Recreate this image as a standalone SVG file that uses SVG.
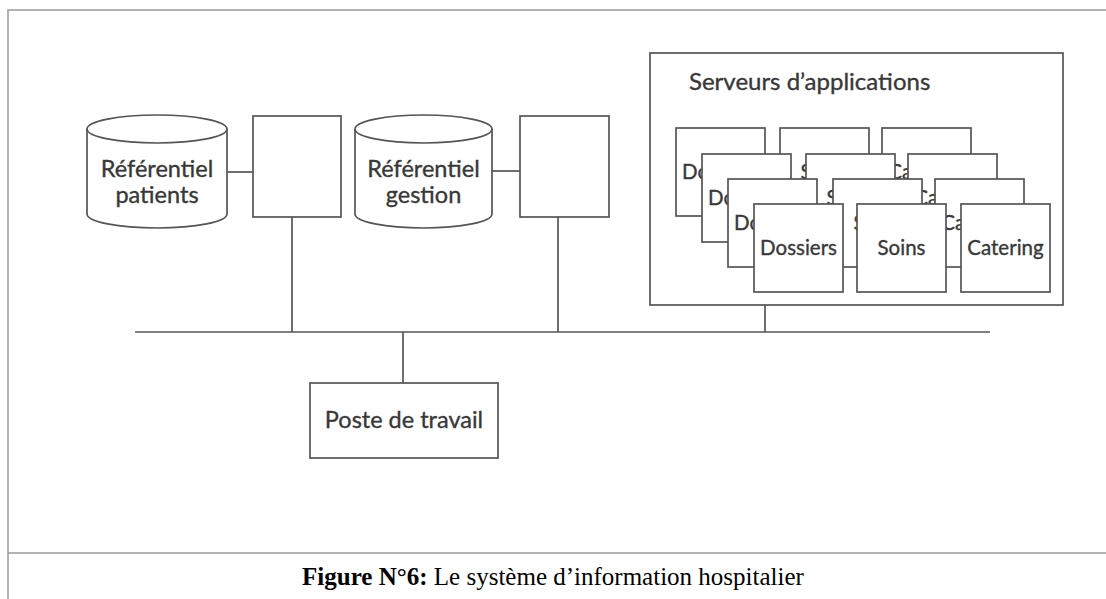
<svg xmlns="http://www.w3.org/2000/svg" width="1106" height="599" viewBox="0 0 1106 599">
  <style>
    .frame { fill: none; stroke: #9a9a9a; stroke-width: 1.5; }
    .shape { fill: #ffffff; stroke: #555555; stroke-width: 1.7; }
    .wire { fill: none; stroke: #555555; stroke-width: 1.7; }
    .lbl { font-family: Lato, "Liberation Sans", sans-serif; fill: #383838; stroke: #383838; stroke-width: 0.35; text-anchor: middle; }
    .big { font-size: 23.5px; }
    .app { font-size: 20.5px; }
    .cap { font-family: "Liberation Serif", serif; font-size: 25px; fill: #000000; text-anchor: middle; }
  </style>

  <rect width="1106" height="599" fill="#ffffff"/>

  <!-- page frame -->
  <g id="frame">
    <path class="frame" d="M8,599 V10 H1106"/>
    <path class="frame" d="M8,553 H1106"/>
  </g>

  <!-- connectors -->
  <g id="connectors">
    <path class="wire" d="M135,332 H990"/>
    <path class="wire" d="M227,172 H253"/>
    <path class="wire" d="M492,171 H520"/>
    <path class="wire" d="M292,217 V332"/>
    <path class="wire" d="M558,217 V332"/>
    <path class="wire" d="M765,305 V332"/>
    <path class="wire" d="M403,332 V383"/>
  </g>

  <g id="ref-patients">
    <path class="shape" d="M87,129 A70,14 0 0 1 227,129 V214 A70,14 0 0 1 87,214 Z"/>
    <path class="wire" d="M87,129 A70,14 0 0 0 227,129"/>
    <text class="lbl big" x="157" y="177">Référentiel</text>
    <text class="lbl big" x="157" y="203">patients</text>
  </g>

  <g id="box-1">
    <rect class="shape" x="253" y="116" width="88" height="101"/>
  </g>

  <g id="ref-gestion">
    <path class="shape" d="M355,129 A68.5,14 0 0 1 492,129 V214 A68.5,14 0 0 1 355,214 Z"/>
    <path class="wire" d="M355,129 A68.5,14 0 0 0 492,129"/>
    <text class="lbl big" x="423.5" y="177">Référentiel</text>
    <text class="lbl big" x="423.5" y="203">gestion</text>
  </g>

  <g id="box-2">
    <rect class="shape" x="520" y="116" width="89" height="101"/>
  </g>

  <g id="app-servers">
    <rect class="shape" x="650" y="53" width="413" height="252"/>
    <text class="lbl" x="689" y="90" style="text-anchor:start;font-size:24px">Serveurs d’applications</text>

    <!-- back row -->
    <rect class="shape" x="676" y="128" width="89" height="88"/>
    <text class="lbl app" x="720.5" y="179">Dossiers</text>
    <rect class="shape" x="780" y="128" width="89" height="88"/>
    <text class="lbl app" x="824.5" y="179">Soins</text>
    <rect class="shape" x="882" y="128" width="89" height="88"/>
    <text class="lbl app" x="926.5" y="179">Catering</text>

    <rect class="shape" x="702" y="154" width="89" height="88"/>
    <text class="lbl app" x="746.5" y="205">Dossiers</text>
    <rect class="shape" x="806" y="154" width="89" height="88"/>
    <text class="lbl app" x="850.5" y="205">Soins</text>
    <rect class="shape" x="908" y="154" width="89" height="88"/>
    <text class="lbl app" x="952.5" y="205">Catering</text>

    <rect class="shape" x="728" y="179" width="89" height="88"/>
    <text class="lbl app" x="772.5" y="230">Dossiers</text>
    <rect class="shape" x="833" y="179" width="89" height="88"/>
    <text class="lbl app" x="877.5" y="230">Soins</text>
    <rect class="shape" x="935" y="179" width="89" height="88"/>
    <text class="lbl app" x="979.5" y="230">Catering</text>

    <!-- front row -->
    <rect class="shape" x="754" y="204" width="89" height="88"/>
    <text class="lbl app" x="798.5" y="255">Dossiers</text>
    <rect class="shape" x="857" y="204" width="89" height="88"/>
    <text class="lbl app" x="901.5" y="255">Soins</text>
    <rect class="shape" x="961" y="204" width="89" height="88"/>
    <text class="lbl app" x="1005.5" y="255">Catering</text>
  </g>

  <g id="workstation">
    <rect class="shape" x="310" y="383" width="188" height="75"/>
    <text class="lbl big" x="404" y="428">Poste de travail</text>
  </g>

  <g id="caption">
    <text class="cap" x="553" y="585"><tspan font-weight="bold">Figure N°6:</tspan> Le système d’information hospitalier</text>
  </g>
</svg>
